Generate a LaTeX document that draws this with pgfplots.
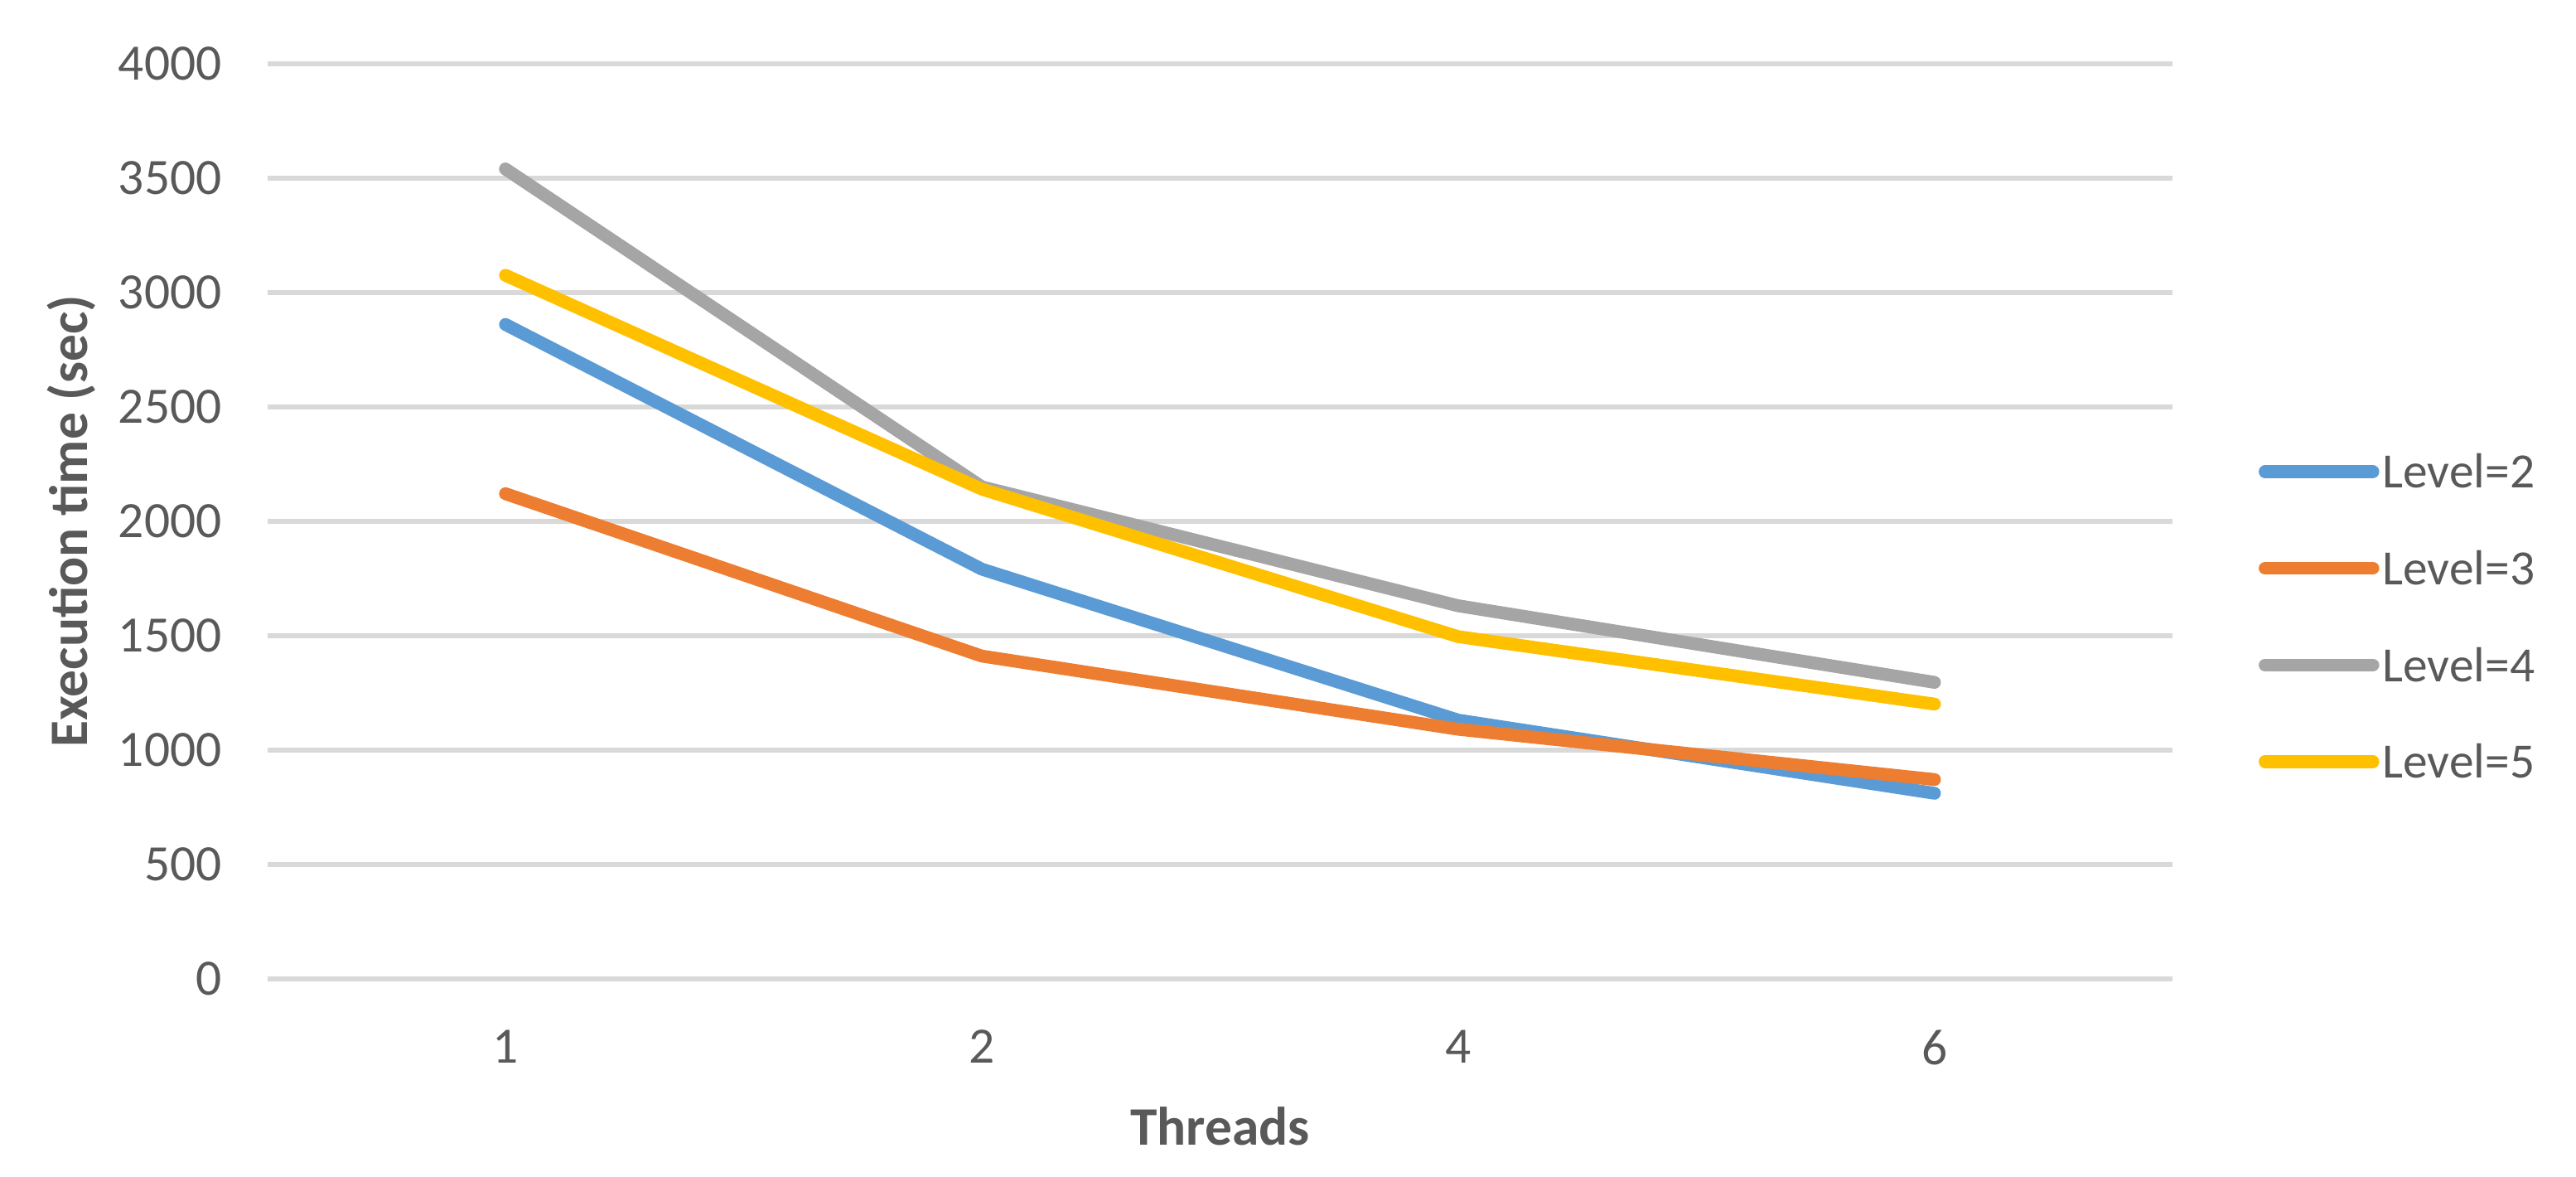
\documentclass[border=0pt]{standalone}
\usepackage{pgfplots}
\pgfplotsset{compat=1.18}
\usepackage{fontspec}
\setmainfont{Carlito}

\definecolor{txt}{HTML}{595959}
\definecolor{gridc}{HTML}{D9D9D9}
\definecolor{lvtwo}{HTML}{5B9BD5}
\definecolor{lvthree}{HTML}{ED7D31}
\definecolor{lvfour}{HTML}{A5A5A5}
\definecolor{lvfive}{HTML}{FFC000}

\begin{document}
\begin{tikzpicture}
\begin{axis}[
  scale only axis,
  width=579.9pt, height=278.3pt,
  xmin=-0.5, xmax=3.5, ymin=0, ymax=4000,
  xtick={0,1,2,3}, xticklabels={1,2,4,6},
  ytick={0,500,...,4000},
  ymajorgrids, grid style={gridc, line width=1.5pt},
  axis line style={draw=none},
  major tick length=0pt,
  /pgf/number format/assume math mode=true,
  /pgf/number format/1000 sep={},
  scaled y ticks=false,
  yticklabel style={font=\fontsize{15.5}{18}\selectfont, text=txt,
    inner sep=0pt, anchor=east, xshift=-13.7pt},
  xticklabel style={font=\fontsize{15.5}{18}\selectfont, text=txt,
    inner sep=0pt, anchor=north, yshift=-15.5pt},
  xlabel={Threads},
  ylabel={Execution time (sec)},
  xlabel style={at={(axis description cs:0.5,-0.1619)}, anchor=center,
    font=\fontsize{16.5}{19}\selectfont\bfseries, text=txt},
  ylabel style={at={(axis description cs:-0.1028,0.5)}, anchor=center,
    font=\fontsize{16.5}{19}\selectfont\bfseries, text=txt},
  every axis plot/.append style={line width=3.9pt, line cap=round, line join=round},
  legend image code/.code={\draw[#1] (1.95pt,0pt) -- (34.75pt,0pt);},
  legend cell align=left,
  legend style={at={(axis description cs:1.0448,0.3956)}, anchor=west,
    draw=none, fill=none, inner sep=0pt, row sep=17.4pt,
    font=\fontsize{15}{18}\selectfont, text=txt,
    nodes={inner sep=1pt, text height=10pt, text depth=0pt}},
]
\addplot[lvtwo] coordinates {(0,2860)(1,1790)(2,1130)(3,810)};
\addplot[lvthree] coordinates {(0,2120)(1,1410)(2,1090)(3,870)};
\addplot[lvfour] coordinates {(0,3540)(1,2150)(2,1630)(3,1295)};
\addplot[lvfive] coordinates {(0,3075)(1,2140)(2,1495)(3,1200)};
\legend{Level=2, Level=3, Level=4, Level=5}
\coordinate (sw) at (rel axis cs:0,0);
\end{axis}
\pgfresetboundingbox
\path (sw) ++(-81.35pt,-60.3pt) rectangle ++(784pt,358pt);
\end{tikzpicture}
\end{document}
